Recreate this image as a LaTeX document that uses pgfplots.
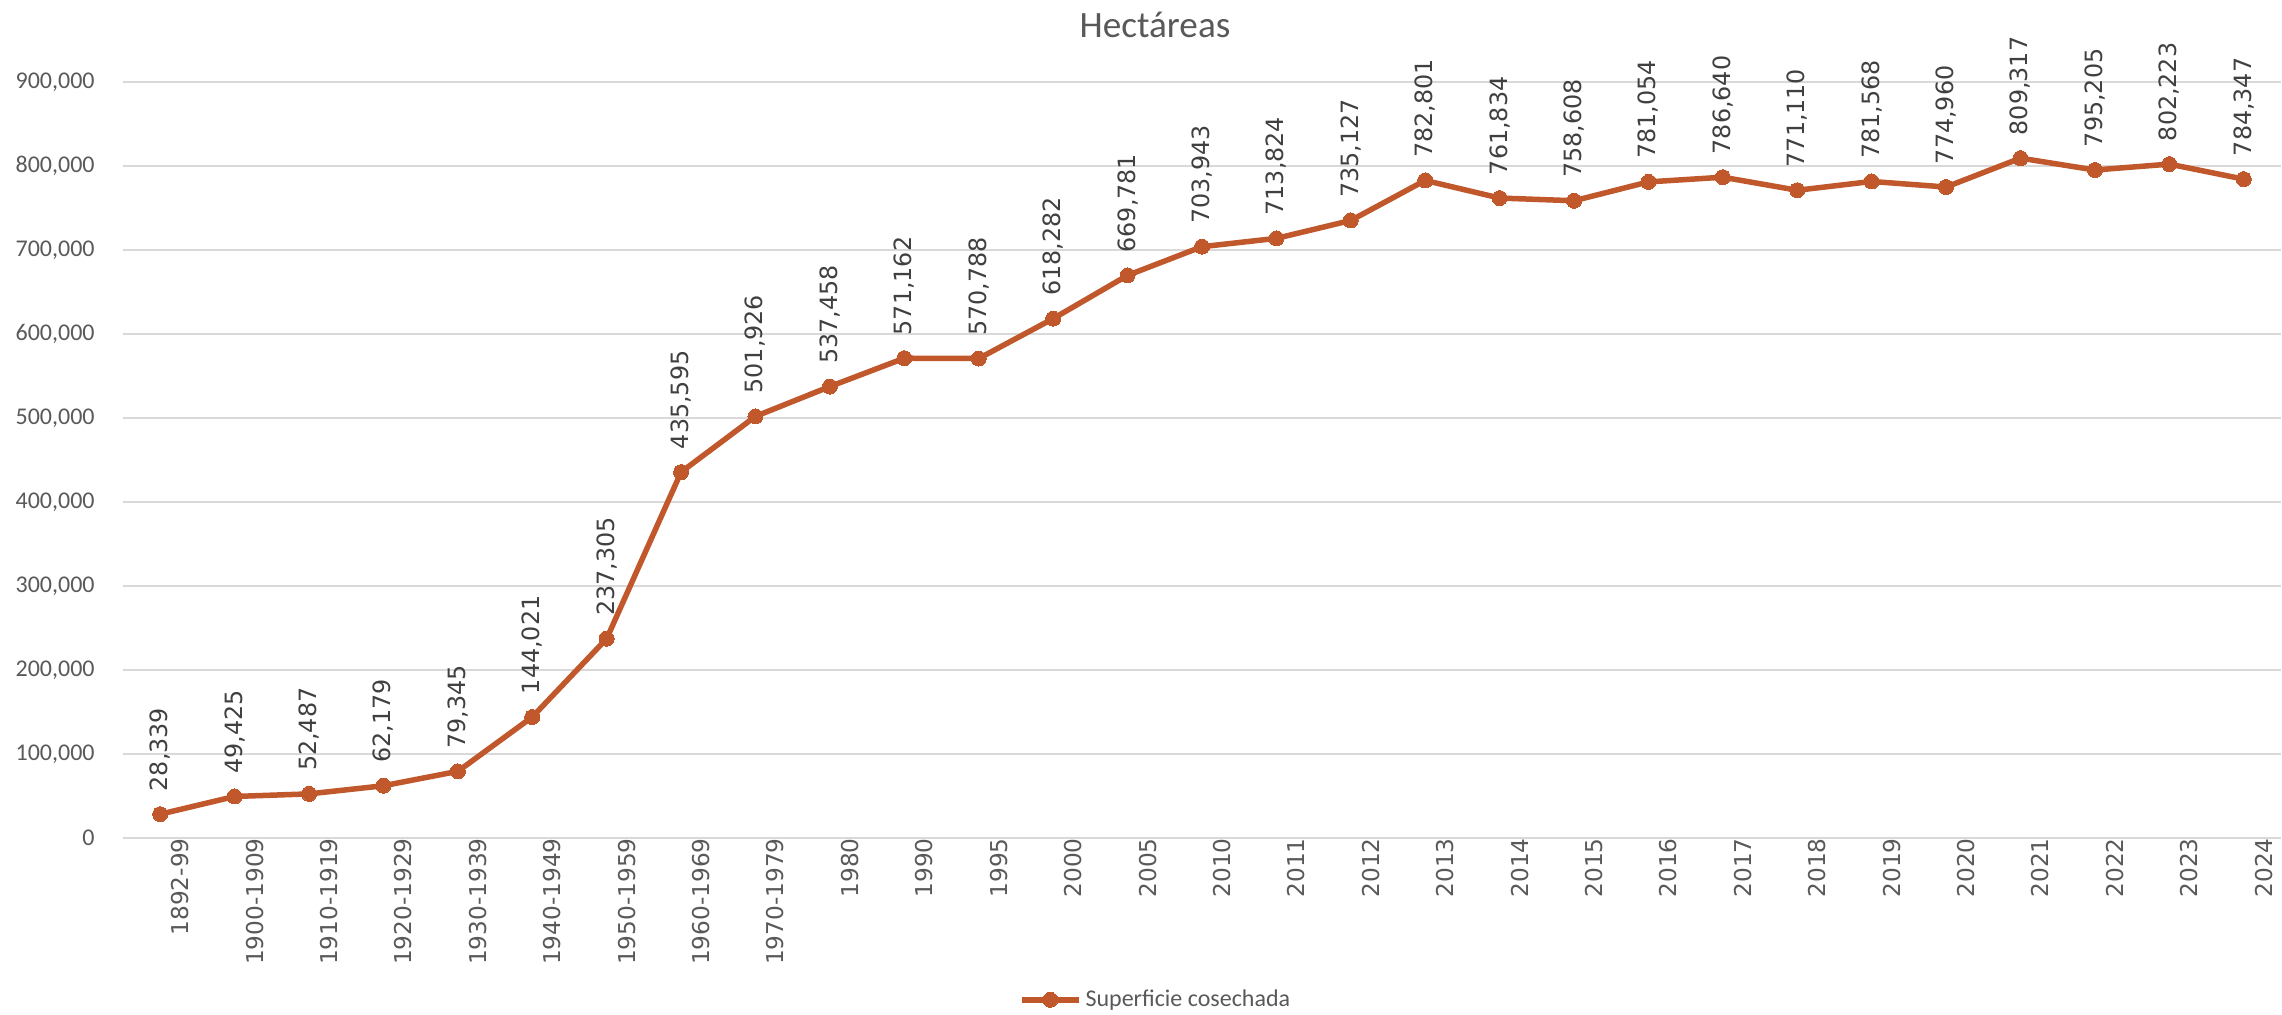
\documentclass[border=0pt]{standalone}
\usepackage{fontspec}
\setmainfont{Carlito}
\newfontfamily\dejavu{DejaVu Sans}
\usepackage{pgfplots}
\pgfplotsset{compat=1.18}
\definecolor{linec}{RGB}{192,88,44}
\definecolor{txt}{RGB}{89,89,89}
\definecolor{lbl}{RGB}{64,64,64}
\definecolor{gridc}{RGB}{217,217,217}
\begin{document}
\begin{tikzpicture}
\begin{axis}[
  at={(0,0)}, anchor=south west,
  scale only axis, width=1079pt, height=378pt,
  xmin=-0.5, xmax=28.5, ymin=0, ymax=900000,
  xtick={0,...,28},
  xticklabels={1892-99,1900-1909,1910-1919,1920-1929,1930-1939,1940-1949,1950-1959,1960-1969,1970-1979,1980,1990,1995,2000,2005,2010,2011,2012,2013,2014,2015,2016,2017,2018,2019,2020,2021,2022,2023,2024},
  xticklabel style={font=\dejavu\fontsize{11.6}{13}\selectfont, color=txt, rotate=90, anchor=east, inner sep=0pt, yshift=-10pt},
  ytick={0,100000,...,900000},
  yticklabel style={font=\fontsize{12}{14}\selectfont, color=txt, anchor=east, inner sep=0pt, xshift=-14pt},
  scaled y ticks=false,
  /pgf/number format/.cd, fixed, precision=0, 1000 sep={,}, assume math mode=true,
  /pgfplots/.cd,
  ymajorgrids, grid style={color=gridc, line width=1pt},
  axis line style={draw=none}, major tick length=0pt,
  clip=false,
  legend style={at={(0.479,-0.214)}, anchor=center, draw=none, fill=none, font=\fontsize{12}{14}\selectfont, text=txt, inner sep=0pt},
  legend image code/.code={\draw[mark repeat=2,mark phase=2] plot coordinates {(0cm,0cm) (0.5cm,0cm) (1cm,0cm)};},
  nodes near coords,
  every node near coord/.append style={font=\dejavu\fontsize{11.9}{13}\selectfont, color=lbl, rotate=90, anchor=west, inner xsep=11.5pt, inner ysep=0pt},
]
\addplot[color=linec, line width=2.75pt, mark=*, mark size=3.75pt, mark options={fill=linec, draw=linec, line width=0pt}] coordinates {
(0,28339) (1,49425) (2,52487) (3,62179) (4,79345) (5,144021) (6,237305) (7,435595) (8,501926) (9,537458)
(10,571162) (11,570788) (12,618282) (13,669781) (14,703943) (15,713824) (16,735127) (17,782801) (18,761834) (19,758608)
(20,781054) (21,786640) (22,771110) (23,781568) (24,774960) (25,809317) (26,795205) (27,802223) (28,784347)
};
\addlegendentry{Superficie cosechada}
\end{axis}
\node[font=\fontsize{18.6}{22}\selectfont, color=txt] at (516pt,406.5pt) {Hectáreas};
\pgfresetboundingbox
\path[use as bounding box] (-61.5pt,-88.5pt) rectangle (1079.5pt,419pt);
\end{tikzpicture}
\end{document}
